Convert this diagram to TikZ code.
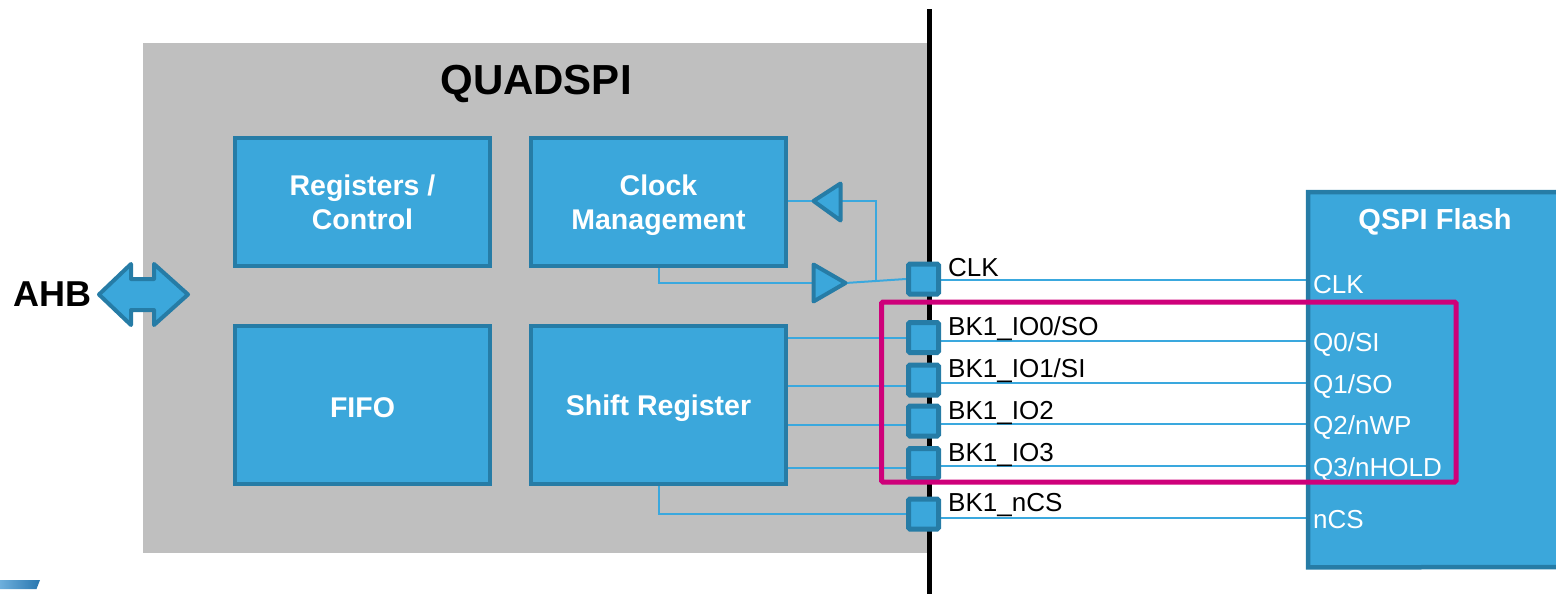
\documentclass[tikz,border=0pt]{standalone}
\usepackage{fontspec}
\setmainfont{Liberation Sans}
\pgfdeclarelayer{back}
\pgfdeclarelayer{wires}
\pgfsetlayers{back,wires,main}
\definecolor{qblue}{RGB}{59,167,219}
\definecolor{qborder}{RGB}{38,124,166}
\definecolor{qline}{RGB}{58,168,222}
\definecolor{qgray}{RGB}{191,191,191}
\definecolor{qmag}{RGB}{206,0,122}
\definecolor{logoA}{RGB}{110,175,220}
\definecolor{logoB}{RGB}{40,118,175}
\begin{document}
\begin{tikzpicture}[x=1pt,y=-1pt,
  blk/.style={draw=qborder, fill=qblue, line width=4pt, minimum width=255pt, inner sep=0pt},
  blktext/.style={text=white, font=\fontsize{28.5}{34}\selectfont\bfseries, align=center, inner sep=0pt},
  pin/.style={draw=qborder, fill=qblue, line width=5pt, minimum size=30pt,
    inner sep=0pt, rounded corners=1.5pt},
  buf/.style={draw=qborder, fill=qblue, line width=4pt, line join=round},
  sig/.style={draw=qline, line width=2pt},
  pinlbl/.style={anchor=base west, font=\fontsize{26}{30}\selectfont, inner sep=0pt},
  flashlbl/.style={pinlbl, text=white},
  title/.style={font=\fontsize{42}{48}\selectfont\bfseries, inner sep=0pt},
]
\useasboundingbox (0,0) rectangle (1556,594);

% QUADSPI block background and chip boundary
\begin{pgfonlayer}{back}
  \fill[qgray] (143,43) rectangle (929,553);
  \fill[black] (926.5,9) rectangle (932,600);
\end{pgfonlayer}

\node[title, anchor=base] (qtitle) at (536,95) {QUADSPI};

% internal blocks
\node[blk, minimum height=128pt] (reg) at (362.5,202) {};
\node[blk, minimum height=128pt] (clk) at (658.5,202) {};
\node[blk, minimum height=158pt] (fifo) at (362.5,405) {};
\node[blk, minimum height=158pt] (sr) at (658.5,405) {};
\node[blktext] (regt) at ([yshift=-0.5pt]reg.center) {Registers /\\Control};
\node[blktext] (clkt) at ([yshift=-3pt]clk.center) {Clock\\Management};
\node[blktext] (fifot) at ([yshift=-2.5pt]fifo.center) {FIFO};
\node[blktext] (srt) at ([yshift=-3.5pt]sr.center) {Shift Register};

% AHB bus arrow
\node[title, font=\fontsize{36}{40}\selectfont\bfseries] (ahb) at (52.5,294) {AHB};
\draw[buf] (99,294.5) -- (131,264) -- (131,279) -- (154,279) -- (154,264)
  -- (188,294.5) -- (154,325) -- (154,310) -- (131,310) -- (131,325) -- cycle;

% clock buffers
\coordinate (b1tip) at (813.5,201);
\coordinate (b1base) at (840.5,201);
\coordinate (b2base) at (813.5,283);
\coordinate (b2tip) at (845.5,283);
\draw[buf] (b1tip) -- (840.5,183.5) -- (840.5,220.5) -- cycle;
\draw[buf] (b2tip) -- (813.5,264.5) -- (813.5,301.5) -- cycle;
\coordinate (fb) at (876,201);

% pads
\node[pin] (pclk) at (923.5,279) {};
\node[pin] (p0) at (923.5,337.5) {};
\node[pin] (p1) at (923.5,380) {};
\node[pin] (p2) at (923.5,421) {};
\node[pin] (p3) at (923.5,463.5) {};
\node[pin] (pcs) at (923.5,514) {};

\node[pinlbl] (lclk) at (948,276.5) {CLK};
\node[pinlbl] (l0) at (948,335) {BK1\_IO0/SO};
\node[pinlbl] (l1) at (948,377.5) {BK1\_IO1/SI};
\node[pinlbl] (l2) at (948,419) {BK1\_IO2};
\node[pinlbl] (l3) at (948,461) {BK1\_IO3};
\node[pinlbl] (lcs) at (948,511.5) {BK1\_nCS};

% external flash device, running off the right edge (open on that side)
\node[fill=qblue, anchor=north west, minimum width=300pt, minimum height=375pt,
  inner sep=0pt] (flash) at (1308,192) {};
\draw[qborder, line width=4.5pt] (1600,192) -- (flash.north west) -- (flash.south west) -- (1600,567);
\node[title, font=\fontsize{29}{34}\selectfont\bfseries, text=white, anchor=base]
  (ftitle) at (1435,229) {QSPI Flash};
\node[flashlbl] (fclk) at (1313,293) {CLK};
\node[flashlbl] (f0) at (1313,351) {Q0/SI};
\node[flashlbl] (f1) at (1313,393) {Q1/SO};
\node[flashlbl] (f2) at (1313,434.5) {Q2/nWP};
\node[flashlbl] (f3) at (1313,476) {Q3/nHOLD};
\node[flashlbl] (fcs) at (1313,528) {nCS};

% signal wiring
\begin{pgfonlayer}{wires}
  \draw[sig] (clk.east |- b1tip) -- (b1tip);
  \draw[sig] (b1base) -- (fb) -- (fb |- 0,282);
  \draw[sig] (clk.south) -- (clk.south |- b2base) -- (b2base);
  \draw[sig] (b2tip) -- (pclk.west);
  \draw[sig] (sr.east |- 0,338) -- (p0.west |- 0,338);
  \draw[sig] (sr.east |- 0,386) -- (p1.west |- 0,386);
  \draw[sig] (sr.east |- 0,425) -- (p2.west |- 0,425);
  \draw[sig] (sr.east |- 0,468) -- (p3.west |- 0,468);
  \draw[sig] (sr.south) -- (sr.south |- 0,514) -- (pcs.west |- 0,514);
  \draw[sig] (pclk.east |- 0,280) -- (flash.west |- 0,280);
  \draw[sig] (p0.east |- 0,341) -- (flash.west |- 0,341);
  \draw[sig] (p1.east |- 0,383) -- (flash.west |- 0,383);
  \draw[sig] (p2.east |- 0,424) -- (flash.west |- 0,424);
  \draw[sig] (p3.east |- 0,466) -- (flash.west |- 0,466);
  \draw[sig] (pcs.east |- 0,518) -- (flash.west |- 0,518);
\end{pgfonlayer}

% quad data lines highlight
\draw[qmag, line width=5pt, rounded corners=1.5pt] (881.5,302) rectangle (1456,482);

% logo fragment
\shade[left color=logoA, right color=logoB] (0,580) -- (40,580) -- (36.5,589) -- (0,589) -- cycle;
\end{tikzpicture}
\end{document}
